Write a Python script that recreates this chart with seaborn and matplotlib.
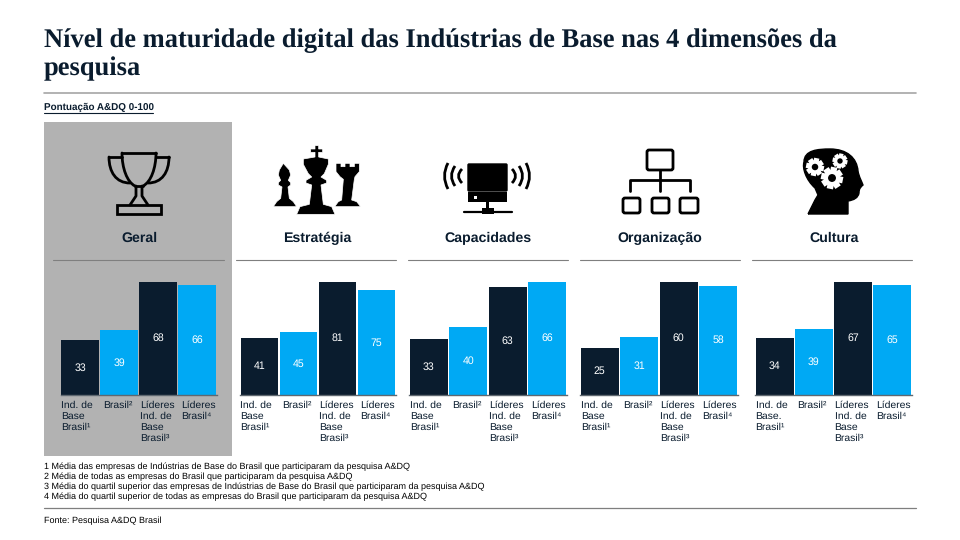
import matplotlib
matplotlib.use("Agg")
import matplotlib.pyplot as plt
import numpy as np
import pandas as pd
import seaborn as sns
from matplotlib.patches import Circle, FancyBboxPatch, PathPatch, Polygon, Rectangle
from matplotlib.path import Path
from matplotlib.transforms import ScaledTranslation

# dados
dimensoes = ["Geral", "Estratégia", "Capacidades", "Organização", "Cultura"]
grupos = ["Ind. de\nBase\nBrasil¹", "Brasil²", "Líderes\nInd. de\nBase\nBrasil³", "Líderes\nBrasil⁴"]
grupos_cultura = ["Ind. de\nBase.\nBrasil¹", "Brasil²", "Líderes\nInd. de\nBase\nBrasil³", "Líderes\nBrasil⁴"]
geral = [33, 39, 68, 66]
estrategia = [41, 45, 81, 75]
capacidades = [33, 40, 63, 66]
organizacao = [25, 31, 60, 58]
cultura = [34, 39, 67, 65]

titulo = "Nível de maturidade digital das Indústrias de Base nas 4 dimensões da\npesquisa"
subtitulo = "Pontuação A&DQ 0-100"
notas = [
    "1 Média das empresas de Indústrias de Base do Brasil que participaram da pesquisa A&DQ",
    "2 Média de todas as empresas do Brasil que participaram da pesquisa A&DQ",
    "3 Média do quartil superior das empresas de Indústrias de Base do Brasil que participaram da pesquisa A&DQ",
    "4 Média do quartil superior de todas as empresas do Brasil que participaram da pesquisa A&DQ",
]
fonte = "Fonte: Pesquisa A&DQ Brasil"

NAVY = "#0a1c2e"
AZUL = "#00a9f4"
CINZA = "#b2b2b2"
W, H = 960, 540

sns.set_theme(style="white")
plt.rcParams["font.family"] = ["Liberation Sans", "DejaVu Sans"]
plt.rcParams["text.hinting"] = "no_hinting"

fig = plt.figure(figsize=(W / 100, H / 100), dpi=100, facecolor="white")

# camada de fundo em pixels, para textos, filetes e icones
bg = fig.add_axes([0, 0, 1, 1])
bg.set_xlim(0, W)
bg.set_ylim(H, 0)
bg.axis("off")


def rect_px(x0, x1, y0, y1):
    return [x0 / W, 1 - y1 / H, (x1 - x0) / W, (y1 - y0) / H]


def linha(x0, y0, x1, y1, cor="black", lw=2.0):
    bg.plot([x0, x1], [y0, y1], color=cor, lw=lw, solid_capstyle="round", solid_joinstyle="round")


def curva(pts, cor="black", lw=2.0):
    codes = [Path.MOVETO] + [Path.CURVE4] * (len(pts) - 1)
    bg.add_patch(PathPatch(Path(pts, codes), fc="none", ec=cor, lw=lw, capstyle="round"))


def caixa(x0, y0, x1, y1, lw=2.0):
    bg.add_patch(FancyBboxPatch((x0 + 2, y0 + 2), x1 - x0 - 4, y1 - y0 - 4, boxstyle="round,pad=2",
                                fc="none", ec="black", lw=lw))


def peca(pts, ox=260, oy=135, z=3):
    # pontos medidos no recorte ampliado 3x
    xy = [(ox + px / 3, oy + py / 3) for px, py in pts]
    bg.add_patch(Polygon(xy, closed=True, fc="black", ec="white", lw=0.5, zorder=z, joinstyle="round"))


def engrenagem(cx, cy, r):
    ang = np.arange(8) * np.pi / 4 + 0.2
    for a in ang:
        bg.plot([cx, cx + r * np.cos(a)], [cy, cy + r * np.sin(a)], color="white", lw=r * 0.42,
                solid_capstyle="butt", zorder=4)
    bg.add_patch(Circle((cx, cy), r * 0.74, fc="white", ec="none", zorder=4))
    bg.add_patch(Circle((cx, cy), r * 0.36, fc="black", ec="none", zorder=5))


def icone_trofeu():
    linha(122, 153, 156, 153)
    curva([(122, 153), (122, 168), (127, 182), (135, 186)])
    curva([(156, 153), (156, 168), (151, 182), (143, 186)])
    linha(109, 157, 122, 157)
    curva([(109, 157), (109, 172), (116, 183), (130, 183)])
    linha(156, 157, 169, 157)
    curva([(169, 157), (169, 172), (162, 183), (148, 183)])
    linha(135, 186, 143, 186)
    bg.plot([136, 136, 130], [186, 196, 205], color="black", lw=2)
    bg.plot([142, 142, 148], [186, 196, 205], color="black", lw=2)
    bg.add_patch(Rectangle((116.5, 205), 44, 9, fc="none", ec="black", lw=2))


def icone_xadrez():
    # bispo
    peca([(70, 85), (58, 105), (55, 120), (62, 136), (55, 143), (55, 150), (66, 156), (62, 190), (50, 200),
          (40, 215), (110, 215), (100, 200), (88, 190), (84, 156), (92, 150), (92, 143), (85, 136), (92, 120),
          (88, 105)])
    # torre
    peca([(228, 85), (243, 85), (243, 95), (255, 95), (255, 85), (270, 85), (270, 95), (283, 95), (283, 85),
          (298, 85), (298, 110), (285, 125), (283, 133), (275, 195), (290, 200), (302, 215), (224, 215),
          (235, 200), (245, 195), (250, 133), (240, 125), (228, 110)])
    # rei
    peca([(165, 32), (176, 32), (176, 42), (188, 42), (188, 52), (176, 52), (176, 66), (205, 72), (205, 88),
          (193, 116), (183, 126), (200, 136), (200, 144), (183, 150), (190, 208), (215, 215), (225, 238),
          (110, 238), (120, 215), (148, 208), (155, 150), (138, 144), (138, 136), (155, 126), (145, 116),
          (130, 88), (130, 72), (165, 66), (165, 52), (152, 52), (152, 42), (165, 42)], z=4)


def icone_computador():
    bg.add_patch(FancyBboxPatch((469, 165), 37, 25, boxstyle="round,pad=1", fc="black", ec="black", lw=1))
    bg.add_patch(Rectangle((468, 192), 39, 10, fc="black", ec="none"))
    bg.add_patch(Rectangle((473.5, 195.5), 3, 3, fc="white", ec="none"))
    bg.add_patch(Rectangle((485.5, 202), 3, 7, fc="black", ec="none"))
    bg.add_patch(Rectangle((481.5, 208), 12, 6, fc="black", ec="none"))
    linha(464, 212, 512, 212, lw=1.6)
    for x, dy in [(445, 13), (452, 10), (459, 7)]:
        bg.add_patch(PathPatch(Path([(x + 3, 176 - dy), (x - 4, 176), (x + 3, 176 + dy)],
                                    [Path.MOVETO, Path.CURVE3, Path.CURVE3]),
                               fc="none", ec="black", lw=2))
    for x, dy in [(515, 7), (522, 10), (529, 13)]:
        bg.add_patch(PathPatch(Path([(x - 3, 176 - dy), (x + 4, 176), (x - 3, 176 + dy)],
                                    [Path.MOVETO, Path.CURVE3, Path.CURVE3]),
                               fc="none", ec="black", lw=2))


def icone_organograma():
    caixa(647, 150, 673, 170)
    linha(660, 170, 660, 191)
    bg.plot([630, 630, 690, 690], [191, 180, 180, 191], color="black", lw=2, solid_joinstyle="round")
    caixa(623, 198, 640, 213)
    caixa(652, 198, 669, 213)
    caixa(680, 198, 698, 213)


def icone_cabeca():
    pts = [(808, 214), (815, 200), (818, 195), (815, 188),
           (806, 180), (802, 168), (804, 162),
           (804, 150), (818, 149), (830, 149),
           (847, 149), (857, 158), (858, 171),
           (859, 177), (862, 182), (863, 185),
           (861, 187), (859, 188), (859, 193),
           (858, 198), (854, 200), (848, 201),
           (848, 214), (848, 214), (848, 214),
           (808, 214), (808, 214), (808, 214)]
    codes = [Path.MOVETO, Path.LINETO, Path.LINETO, Path.LINETO] + [Path.CURVE4] * 24
    bg.add_patch(PathPatch(Path(pts, codes), fc="black", ec="black", lw=1, zorder=3))
    engrenagem(815, 167, 9)
    engrenagem(840, 161, 7.5)
    engrenagem(832, 178, 11)


# painel cinza de "Geral"
bg.add_patch(Rectangle((44, 122), 188, 334, fc=CINZA, ec="none", zorder=0))

# titulo e cabecalho
bg.text(44, 28, titulo, family="Liberation Serif", weight="bold", fontsize=19.1, color=NAVY,
        va="top", ha="left", linespacing=1.2)
bg.plot([44, 916], [93, 93], color="#a6a6a6", lw=1.2)
bg.text(44, 107.5, subtitulo, weight="bold", fontsize=7.1, color=NAVY, va="center", ha="left")
bg.plot([44, 153], [113, 113], color=NAVY, lw=0.8)

icone_trofeu()
icone_xadrez()
icone_computador()
icone_organograma()
icone_cabeca()

# um eixo por dimensao
valores = [geral, estrategia, capacidades, organizacao, cultura]
rotulos = [grupos, grupos, grupos, grupos, grupos_cultura]
faixas = [(60.5, 217), (240, 396), (409, 567), (580, 738), (755, 912)]
centros = [139, 317, 488, 660, 834]
filetes = [(53, 224), (236, 396), (408, 568), (580, 740), (752, 912)]
desloc_px = [-19, -16.5, -18.5, -16.5]

for nome, vals, rots, (x0, x1), cx, (fx0, fx1) in zip(dimensoes, valores, rotulos, faixas, centros, filetes):
    bg.text(cx, 238.5, nome, weight="bold", fontsize=10.2, color=NAVY, ha="center", va="center")
    bg.plot([fx0, fx1], [259.5, 259.5], color="#7f7f7f", lw=0.8)

    ax = fig.add_axes(rect_px(x0, x1, 282, 395))
    ax.patch.set_alpha(0)
    df = pd.DataFrame({"grupo": rots, "pontos": vals})
    cores = dict(zip(rots, [NAVY, AZUL, NAVY, AZUL]))
    sns.barplot(data=df, x="grupo", y="pontos", hue="grupo", palette=cores, legend=False,
                width=0.97, saturation=1, linewidth=0, edgecolor="none", ax=ax)
    for cont in ax.containers:
        ax.bar_label(cont, label_type="center", color="white", fontsize=7.6)
    ax.set_ylim(0, max(vals))
    ax.set_xlim(-0.5, 3.5)
    ax.set_xlabel("")
    ax.set_ylabel("")
    ax.set_yticks([])
    sns.despine(ax=ax, left=True)
    ax.spines["bottom"].set_color("#5f6870")
    ax.spines["bottom"].set_linewidth(1.0)
    ax.tick_params(axis="x", length=0, pad=4.2)
    for lab, d in zip(ax.get_xticklabels(), desloc_px):
        lab.set_ha("left")
        lab.set_va("top")
        lab.set_fontsize(7.5)
        lab.set_color(NAVY)
        lab.set_linespacing(1.2)
        lab.set_transform(lab.get_transform() + ScaledTranslation(d / 100, 0, fig.dpi_scale_trans))

# notas e fonte
for nota, y in zip(notas, [467, 477, 487, 497]):
    bg.text(44, y, nota, fontsize=6.45, color="black", va="center", ha="left")
bg.plot([44, 916], [508, 508], color="#7f7f7f", lw=0.9)
bg.text(44, 520.5, fonte, fontsize=6.45, color="black", va="center", ha="left")

fig.savefig("out.png", dpi=100)
